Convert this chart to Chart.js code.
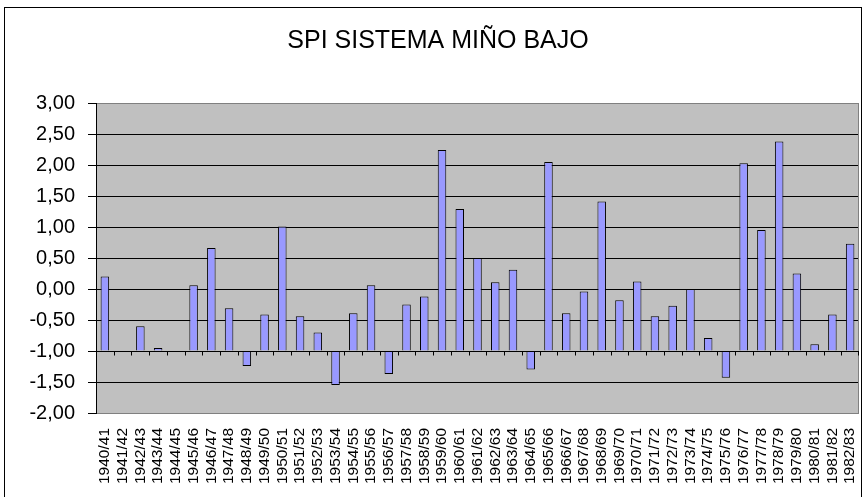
<!DOCTYPE html>
<html>
<head>
<meta charset="utf-8">
<script src="https://cdn.jsdelivr.net/npm/chart.js@4/dist/chart.umd.min.js"></script>
<style>
  html, body { margin: 0; padding: 0; background: #ffffff; }
  #wrap { position: relative; width: 866px; height: 497px; }
</style>
</head>
<body>
<div id="wrap"><canvas id="c" width="866" height="497"></canvas></div>
<script>
const chartTitle = 'SPI SISTEMA MIÑO BAJO';
const categories = ['1940/41','1941/42','1942/43','1943/44','1944/45','1945/46','1946/47','1947/48','1948/49','1949/50',
  '1950/51','1951/52','1952/53','1953/54','1954/55','1955/56','1956/57','1957/58','1958/59','1959/60',
  '1960/61','1961/62','1962/63','1963/64','1964/65','1965/66','1966/67','1967/68','1968/69','1969/70',
  '1970/71','1971/72','1972/73','1973/74','1974/75','1975/76','1976/77','1977/78','1978/79','1979/80',
  '1980/81','1981/82','1982/83'];
const spiValues = [0.20, -0.99, -0.60, -0.95, -1.00, 0.06, 0.66, -0.31, -1.24, -0.41,
  1.01, -0.44, -0.70, -1.55, -0.39, 0.06, -1.37, -0.25, -0.12, 2.24,
  1.29, 0.50, 0.11, 0.31, -1.30, 2.05, -0.39, -0.04, 1.41, -0.18,
  0.12, -0.44, -0.27, 0.00, -0.79, -1.43, 2.03, 0.95, 2.38, 0.25,
  -0.89, -0.41, 0.73];
const yMin = -2, yMax = 3, yStep = 0.5, barBase = -1;

const FONT = "'Liberation Sans', Arial, sans-serif";

const decor = {
  id: 'decor',
  beforeDraw(chart) {
    const ctx = chart.ctx, a = chart.chartArea;
    ctx.save();
    ctx.fillStyle = '#ffffff';
    ctx.fillRect(0, 0, chart.width, chart.height);
    ctx.strokeStyle = '#000000';
    ctx.lineWidth = 1;
    ctx.strokeRect(4.5, 7.5, 857, 600);
    ctx.fillStyle = '#C0C0C0';
    ctx.fillRect(a.left, a.top, a.right - a.left, a.bottom - a.top);
    ctx.restore();
  },
  afterDatasetsDraw(chart) {
    const ctx = chart.ctx, a = chart.chartArea;
    const xs = chart.scales.x, ys = chart.scales.y;
    ctx.save();
    ctx.strokeStyle = '#808080';
    ctx.lineWidth = 1;
    ctx.beginPath();
    ctx.moveTo(Math.round(a.right) - 0.5, a.top);
    ctx.lineTo(Math.round(a.right) - 0.5, a.bottom);
    ctx.stroke();
    const y0 = Math.round(ys.getPixelForValue(barBase)) + 0.5;
    ctx.strokeStyle = '#000000';
    ctx.beginPath();
    ctx.moveTo(a.left, y0);
    ctx.lineTo(a.right, y0);
    const half = (xs.getPixelForValue(1) - xs.getPixelForValue(0)) / 2;
    for (let i = 0; i <= categories.length; i++) {
      const x = Math.min(Math.round(xs.getPixelForValue(i) - half) + 0.5, Math.round(a.right) - 0.5);
      ctx.moveTo(x, y0);
      ctx.lineTo(x, y0 + 4);
    }
    ctx.stroke();
    ctx.restore();
  }
};

new Chart(document.getElementById('c'), {
  type: 'bar',
  data: {
    labels: categories,
    datasets: [{
      data: spiValues,
      base: barBase,
      backgroundColor: '#9999FF',
      borderColor: '#000000',
      borderWidth: 1,
      borderSkipped: 'start',
      categoryPercentage: 1.0,
      barPercentage: 0.48
    }]
  },
  options: {
    responsive: false,
    animation: false,
    layout: { padding: { left: 17, right: 7, top: 0, bottom: 0 } },
    plugins: {
      legend: { display: false },
      tooltip: { enabled: false },
      title: {
        display: true,
        text: chartTitle,
        color: '#000000',
        font: { family: FONT, size: 25, weight: 'normal' },
        padding: { top: 26, bottom: 47 }
      }
    },
    scales: {
      x: {
        grid: { display: false, drawTicks: false },
        border: { display: false },
        ticks: {
          autoSkip: false,
          maxRotation: 90,
          minRotation: 90,
          padding: 15,
          color: '#000000',
          font: { family: FONT, size: 15.5 }
        },
        afterFit(scale) {
          scale.height = 84;
          scale.paddingLeft = 0;
          scale.paddingRight = 0;
        }
      },
      y: {
        min: yMin,
        max: yMax,
        border: { display: true, color: '#000000', width: 1 },
        grid: {
          color: (c) => (c.tick && (c.tick.value === yMax || c.tick.value === yMin)) ? '#808080' : '#000000',
          tickColor: '#000000',
          tickLength: 8,
          drawTicks: true
        },
        ticks: {
          stepSize: yStep,
          padding: 13,
          color: '#000000',
          font: { family: FONT, size: 20 },
          callback: (v) => Number(v).toFixed(2).replace('.', ',')
        },
        afterFit(scale) {
          scale.width = 79;
          scale.paddingTop = 0;
          scale.paddingBottom = 0;
        }
      }
    }
  },
  plugins: [decor]
});
</script>
</body>
</html>
